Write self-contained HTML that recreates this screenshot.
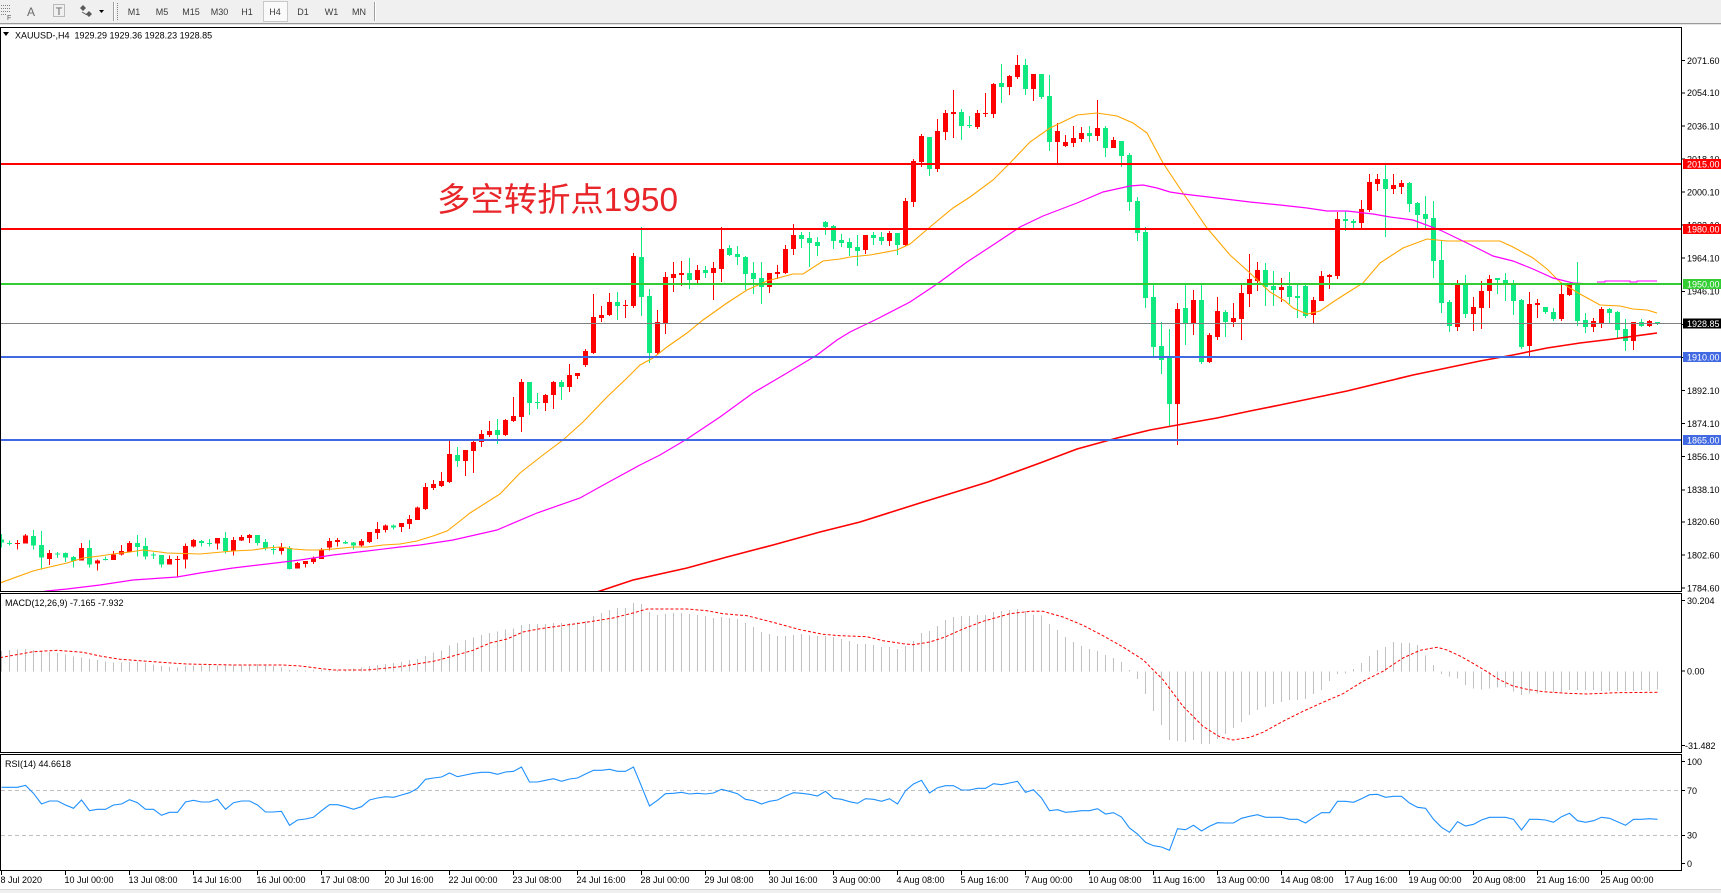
<!DOCTYPE html>
<html><head><meta charset="utf-8"><title>XAUUSD H4</title>
<style>
html,body{margin:0;padding:0;background:#fff;}
body{width:1721px;height:893px;overflow:hidden;}
svg{display:block;}
text{font-family:"Liberation Sans","Noto Sans CJK SC",sans-serif;font-size:9px;fill:#000;}
.tb{fill:#3a3a3a;font-size:9px;text-anchor:middle;}
.wl{fill:#fff;}
</style></head><body>
<svg id="svg" width="1721" height="893" viewBox="0 0 1721 893" xmlns="http://www.w3.org/2000/svg">
<defs>
<clipPath id="cm"><rect x="1" y="28" width="1680" height="563"/></clipPath>
<clipPath id="cmacd"><rect x="1" y="594" width="1680" height="158"/></clipPath>
<clipPath id="crsi"><rect x="1" y="755" width="1680" height="115"/></clipPath>
</defs>
<rect width="1721" height="893" fill="#fff"/>

<!-- toolbar -->
<rect x="0" y="0" width="1721" height="23" fill="#f0f0f0"/>
<line x1="0" y1="23.5" x2="1721" y2="23.5" stroke="#9a9a9a"/>
<line x1="0" y1="24.5" x2="1721" y2="24.5" stroke="#e4e4e4"/>
<g stroke="#808080" stroke-dasharray="1 1" shape-rendering="crispEdges">
<path d="M1 5.5h9M1 8.5h9M1 11.5h9M1 14.5h5"/>
<rect x="53.5" y="4.5" width="11" height="12" fill="none"/>
<line x1="117.5" y1="3" x2="117.5" y2="20"/>
</g>
<text x="7" y="20" style="font-size:7px;fill:#555">F</text>
<text x="31" y="16" style="font-size:12px;fill:#6a6a6a;text-anchor:middle">A</text>
<text x="59" y="15" style="font-size:11px;fill:#6a6a6a;text-anchor:middle">T</text>
<path d="M80 8l3-3 3 3-3 3z M86 14l3-3 3 3-3 3z" fill="#5a5a5a"/>
<path d="M82 12l5 3" stroke="#5a5a5a"/>
<path d="M99 10h5l-2.5 3z" fill="#000"/>
<line x1="113.5" y1="2" x2="113.5" y2="21" stroke="#a0a0a0"/>
<line x1="114.5" y1="2" x2="114.5" y2="21" stroke="#fff"/>
<rect x="263.5" y="1.5" width="24" height="20" fill="#fafafa" stroke="#c8c8c8"/>
<text class="tb" x="134" y="15">M1</text>
<text class="tb" x="162" y="15">M5</text>
<text class="tb" x="191" y="15">M15</text>
<text class="tb" x="219.5" y="15">M30</text>
<text class="tb" x="247" y="15">H1</text>
<text class="tb" x="275" y="15">H4</text>
<text class="tb" x="303" y="15">D1</text>
<text class="tb" x="331.5" y="15">W1</text>
<text class="tb" x="359" y="15">MN</text>
<line x1="374.5" y1="2" x2="374.5" y2="21" stroke="#a0a0a0"/>
<line x1="375.5" y1="2" x2="375.5" y2="21" stroke="#fff"/>

<!-- bottom strip -->
<rect x="0" y="890" width="1721" height="3" fill="#f0f0f0"/>
<line x1="0" y1="889.5" x2="1721" y2="889.5" stroke="#d8d8d8"/>

<!-- main panel content -->
<g clip-path="url(#cm)">
<path id="cgn" fill="#10e880" shape-rendering="crispEdges" d=""/>
<path id="cr" fill="#ff0000" shape-rendering="crispEdges" d=""/>
<polyline fill="none" stroke="#ffa500" stroke-width="1.1" points="0,583 33,571 41,569 67,563 83,558 100,556 113,554 130,552 143,550 160,552 167,553 200,554 233,551 253,550 267,548 280,547 293,549 307,550 320,550 333,549 353,547 367,547 383,545 400,544 417,541 433,536 447,531 460,521 470,513 500,494 520,473 543,455 563,440 583,422 607,397 627,378 640,365 653,358 667,347 687,333 703,320 727,303 747,290 767,281 793,274 803,274 823,261 840,259 850,257 870,255 897,250 910,244 930,227 953,208 970,197 993,180 1010,163 1030,142 1050,128 1077,115 1097,113 1117,116 1133,123 1147,133 1163,163 1183,193 1207,228 1230,255 1250,273 1270,292 1285,301 1293,308 1307,314 1320,311 1333,302 1347,293 1363,283 1380,263 1403,248 1427,239 1447,241 1467,241 1500,241 1513,247 1533,258 1547,269 1560,282 1580,294 1600,305 1620,306 1633,309 1647,310 1657,313"/>
<polyline fill="none" stroke="#ff00ff" stroke-width="1.2" points="40,592 47,591 67,589 100,585 133,580 177,577 200,573 233,568 267,564 300,560 333,555 367,551 400,547 420,545 453,540 497,530 537,513 580,498 607,483 640,465 660,455 687,439 720,417 753,393 787,373 817,355 837,340 850,332 877,319 910,302 937,284 967,262 993,245 1020,227 1043,216 1077,203 1103,192 1130,186 1143,185 1157,188 1170,192 1183,194 1217,198 1250,202 1280,205 1307,208 1327,211 1347,211 1373,214 1390,217 1413,220 1440,230 1467,243 1493,256 1513,261 1533,269 1553,278 1573,283 1590,284"/>
<polyline fill="none" stroke="#ff00ff" stroke-width="1.2" shape-rendering="crispEdges" points="1597,282 1605,282 1605,281 1630,281 1630,282 1637,282 1637,281 1657,281"/>
<polyline fill="none" stroke="#ff0000" stroke-width="1.6" points="597,592 633,580 687,568 727,557 773,545 820,532 860,522 920,503 988,482 1040,463 1077,449 1117,438 1150,430 1183,424 1217,418 1250,411 1280,405 1347,391 1413,375 1480,361 1513,355 1547,348 1580,343 1613,339 1657,333"/>
<g shape-rendering="crispEdges">
<line x1="1" y1="323.5" x2="1681" y2="323.5" stroke="#808080" stroke-width="1"/>
<line x1="1" y1="164" x2="1681" y2="164" stroke="#ff0000" stroke-width="2"/>
<line x1="1" y1="229" x2="1681" y2="229" stroke="#ff0000" stroke-width="2"/>
<line x1="1" y1="284" x2="1681" y2="284" stroke="#32cd32" stroke-width="2"/>
<line x1="1" y1="357" x2="1681" y2="357" stroke="#4169e1" stroke-width="2"/>
<line x1="1" y1="440" x2="1681" y2="440" stroke="#4169e1" stroke-width="2"/>
</g>
<text x="437" y="211" textLength="241" lengthAdjust="spacingAndGlyphs" style="font-family:'Liberation Sans','Noto Sans CJK SC',sans-serif;font-size:33px;fill:#e8262a">多空转折点1950</text>
</g>

<!-- header -->
<path d="M3 32h6l-3 4z" fill="#000"/>
<text x="15" y="38.5" style="white-space:pre">XAUUSD-,H4  1929.29 1929.36 1928.23 1928.85</text>

<!-- MACD -->
<g clip-path="url(#cmacd)">
<path id="hist" fill="#c0c0c0" shape-rendering="crispEdges" d=""/>
<polyline fill="none" stroke="#ff0000" stroke-width="1" stroke-dasharray="3 2" points="0,657.7 33,651.7 57,650.3 83,652.3 100,656 120,659.3 140,660.7 167,662.7 187,664 233,665 283,665 300,666 333,670 367,670 400,666.7 433,661.3 440,659.7 473,650.3 490,643 507,639 523,632 540,628.7 567,625 590,621.7 613,618 633,613 647,609 687,609 707,610.7 723,613.7 747,615.7 773,622.3 800,629.7 823,634.3 840,635.7 867,636.7 883,640.7 903,643.7 913,644.7 930,642 945,637 963,629 983,621.3 1010,613.7 1030,611.3 1043,611.3 1063,617 1083,625.3 1103,635.7 1123,647 1143,659.7 1163,679.7 1183,706.3 1203,726.3 1220,737 1233,740 1250,737.3 1263,732.3 1283,721.3 1303,711.3 1323,702.3 1343,693.7 1363,681.3 1383,671.3 1403,658 1420,650.3 1437,647.3 1447,650 1460,656 1473,663.3 1487,671.7 1500,680 1513,686 1527,689.3 1543,691.7 1567,693.3 1587,694 1617,692.7 1658,692.3"/>
</g>
<text x="5" y="606">MACD(12,26,9) -7.165 -7.932</text>

<!-- RSI -->
<g clip-path="url(#crsi)">
<line x1="1" y1="790.5" x2="1681" y2="790.5" stroke="#c0c0c0" stroke-dasharray="4 3" shape-rendering="crispEdges"/>
<line x1="1" y1="835.5" x2="1681" y2="835.5" stroke="#c0c0c0" stroke-dasharray="4 3" shape-rendering="crispEdges"/>
<polyline id="rsi" fill="none" stroke="#1e90ff" stroke-width="1.1" points=""/>
</g>
<text x="5" y="767">RSI(14) 44.6618</text>

<!-- frames -->
<g fill="none" stroke="#000" shape-rendering="crispEdges">
<rect x="0.5" y="27.5" width="1681" height="564"/>
<rect x="0.5" y="593.5" width="1681" height="159"/>
<rect x="0.5" y="754.5" width="1681" height="116"/>
<path d="M1681 60.7h4M1681 92.9h4M1681 126.1h4M1681 159h4M1681 192.1h4M1681 225.1h4M1681 258.2h4M1681 291.3h4M1681 324.4h4M1681 357.5h4M1681 390.5h4M1681 423.6h4M1681 456.7h4M1681 489.8h4M1681 521.9h4M1681 555h4M1681 588h4M1681 600.7h4M1681 671h4M1681 745.7h4M1681 761.7h4M1681 790.7h4M1681 835.3h4M1681 863.7h4"/>
<path d="M1.5 871v4M65.5 871v4M129.5 871v4M193.5 871v4M257.5 871v4M321.5 871v4M385.5 871v4M449.5 871v4M513.5 871v4M577.5 871v4M641.5 871v4M705.5 871v4M769.5 871v4M833.5 871v4M897.5 871v4M961.5 871v4M1025.5 871v4M1089.5 871v4M1153.5 871v4M1217.5 871v4M1281.5 871v4M1345.5 871v4M1409.5 871v4M1473.5 871v4M1537.5 871v4M1601.5 871v4"/>
</g>

<!-- price axis labels -->
<g>
<text x="1687" y="64">2071.60</text>
<text x="1687" y="96.2">2054.10</text>
<text x="1687" y="129.4">2036.10</text>
<text x="1687" y="162.3">2018.10</text>
<text x="1687" y="195.4">2000.10</text>
<text x="1687" y="228.4">1982.10</text>
<text x="1687" y="261.5">1964.10</text>
<text x="1687" y="294.6">1946.10</text>
<text x="1687" y="327.7">1928.10</text>
<text x="1687" y="360.8">1910.10</text>
<text x="1687" y="393.8">1892.10</text>
<text x="1687" y="426.9">1874.10</text>
<text x="1687" y="460">1856.10</text>
<text x="1687" y="493.1">1838.10</text>
<text x="1687" y="525.2">1820.60</text>
<text x="1687" y="558.3">1802.60</text>
<text x="1687" y="591.3">1784.60</text>
<text x="1687" y="604">30.204</text>
<text x="1687" y="674.3">0.00</text>
<text x="1685" y="749">-31.482</text>
<text x="1687" y="765">100</text>
<text x="1687" y="794">70</text>
<text x="1687" y="838.6">30</text>
<text x="1687" y="867">0</text>
</g>
<!-- level boxes -->
<g shape-rendering="crispEdges">
<rect x="1683" y="159" width="38" height="10" fill="#ff0000"/>
<rect x="1683" y="224" width="38" height="10" fill="#ff0000"/>
<rect x="1683" y="279" width="38" height="10" fill="#32cd32"/>
<rect x="1683" y="318.5" width="38" height="10" fill="#000"/>
<rect x="1683" y="352" width="38" height="10" fill="#4169e1"/>
<rect x="1683" y="435" width="38" height="10" fill="#4169e1"/>
</g>
<text class="wl" x="1687" y="167.4">2015.00</text>
<text class="wl" x="1687" y="232.4">1980.00</text>
<text class="wl" x="1687" y="287.4">1950.00</text>
<text class="wl" x="1687" y="326.9">1928.85</text>
<text class="wl" x="1687" y="360.4">1910.00</text>
<text class="wl" x="1687" y="443.4">1865.00</text>

<!-- time axis labels -->
<g>
<text x="0.5" y="883">8 Jul 2020</text>
<text x="64.5" y="883">10 Jul 00:00</text>
<text x="128.5" y="883">13 Jul 08:00</text>
<text x="192.5" y="883">14 Jul 16:00</text>
<text x="256.5" y="883">16 Jul 00:00</text>
<text x="320.5" y="883">17 Jul 08:00</text>
<text x="384.5" y="883">20 Jul 16:00</text>
<text x="448.5" y="883">22 Jul 00:00</text>
<text x="512.5" y="883">23 Jul 08:00</text>
<text x="576.5" y="883">24 Jul 16:00</text>
<text x="640.5" y="883">28 Jul 00:00</text>
<text x="704.5" y="883">29 Jul 08:00</text>
<text x="768.5" y="883">30 Jul 16:00</text>
<text x="832.5" y="883">3 Aug 00:00</text>
<text x="896.5" y="883">4 Aug 08:00</text>
<text x="960.5" y="883">5 Aug 16:00</text>
<text x="1024.5" y="883">7 Aug 00:00</text>
<text x="1088.5" y="883">10 Aug 08:00</text>
<text x="1152.5" y="883">11 Aug 16:00</text>
<text x="1216.5" y="883">13 Aug 00:00</text>
<text x="1280.5" y="883">14 Aug 08:00</text>
<text x="1344.5" y="883">17 Aug 16:00</text>
<text x="1408.5" y="883">19 Aug 00:00</text>
<text x="1472.5" y="883">20 Aug 08:00</text>
<text x="1536.5" y="883">21 Aug 16:00</text>
<text x="1600.5" y="883">25 Aug 00:00</text>
</g>
</svg>
<script>
(function(){
var C=[
[0,539.3,542.7,534,547.7],[0,543,543,540.3,545.7],[1,543,543,540,549.7],[1,535.7,543.7,534,543.7],[0,536,545.7,530,549.7],
[0,545,557.7,531,569.3],[1,553,559,550,565],[0,553.3,553.3,552,558],[0,553,557.7,552.3,562],[0,557,561,556,567.7],
[1,548,560.3,543,560.3],[0,548,564.7,540,567.7],[1,560.3,563.7,559.3,570.7],[0,559,559,556.7,560.7],[1,554.7,560,551,560],
[1,551,554.7,545,555.7],[1,543,552,541,552],[0,543,547,535,556.7],[0,546,556.7,538,559.7],[0,554.7,554.7,552.3,559],
[0,555,564.7,555,567.7],[1,559,564.7,555.3,564.7],[1,559,559,556,577],[1,546,559.7,543.7,568.7],[1,540,546.7,539,547.7],
[0,541,543,540,546.7],[0,543,543,539,546.7],[1,538,543.7,538,549.7],[0,538,551,532,553.7],[1,540,551,537,555.7],
[1,537,540.7,535,541],[1,535,538,534,543],[0,535,543,535,545.7],[0,542,548.7,539,550.7],[0,549,549,545,554.7],
[1,547.7,551,543,554.7],[0,548,569,546,569.7],[1,563,568.7,562,568.7],[1,561,564,561,567.7],[1,558.3,562,556.7,564],
[1,549.7,559,548,559],[1,541,547.7,538,550.7],[1,540,542,538,546.7],[0,542,543.7,540.3,544],[0,542.7,545.7,542,549.7],
[1,541,545.7,539,546.7],[1,532,542,532,543],[1,529,533,522,539],[1,525.3,530,524.7,532.7],[0,525.7,527.3,524.7,529.3],
[1,523,527,523,532],[1,519,524,515,529],[1,507.7,520,506.7,520],[1,487,509,483,510],[1,484,488,480,490],
[1,481,486,472,487],[1,454,482,441,483],[0,455,461,447,467],[1,450,461,450,476],[1,442,451,439,473],
[1,434,442,430,447],[1,431,435,421,437],[0,430,435,419,444],[1,420,435,419,436],[1,416,421,397,422],
[1,382,417,379,432],[0,382,403,382,415],[0,402,402,393,409],[1,395,403,394,411],[1,382,395,381,409],
[0,382,387,380,400],[1,375,387,364,392],[1,373,376,373,379],[1,351,365,349,367],[1,317,353,294,354],
[1,315,318,306,322],[1,302,315,293,316],[0,302,306,292,320],[1,305,305,300,318],[1,256,306,253,308],
[0,257,297,227,316],[0,296,353,289,363],[1,322,353,310,354],[1,277,324,272,334],[1,274,278,262,292],
[1,273,275,261,286],[0,273,280,258,289],[1,270,280,265,283],[0,270,273,266,278],[1,268,273,262,300],
[1,249,269,227,282],[0,248,255,245,256],[0,254,257,246,265],[0,257,274,256,290],[0,273,279,262,294],
[0,278,287,262,304],[1,273,287,273,293],[1,272,274,265,279],[1,249,273,245,274],[1,235,249,224,255],
[0,235,239,232,248],[0,238,243,232,267],[0,242,246,237,256],[0,222,227,221,235],[0,226,241,225,249],
[0,240,243,234,247],[0,242,248,238,256],[0,247,251,235,266],[1,235,250,235,254],[0,235,238,232,245],
[0,237,241,232,245],[1,233,241,231,246],[0,233,245,233,255],[1,201,245,198,246],[1,161,202,159,207],
[1,136,162,134,167],[0,137,169,137,176],[1,131,169,119,172],[1,113,132,110,140],[1,112,114,90,138],
[0,112,126,109,140],[0,125,125,116,128],[1,113,127,110,129],[1,113,113,93,117],[1,84,114,83,118],
[0,83,87,64,103],[1,76,87,75,95],[1,65,77,55,79],[0,65,89,59,95],[1,74,89,74,101],
[0,74,97,74,99],[0,96,142,75,151],[1,131,142,123,163],[1,142,146,135,147],[1,138,143,126,147],
[1,133,139,127,142],[0,133,136,126,142],[1,128,136,100,141],[0,128,148,126,157],[1,140,148,137,148],
[0,141,156,141,167],[0,155,202,153,211],[0,201,233,197,241],[0,232,298,227,308],[0,297,347,285,358],
[0,346,360,322,374],[0,357,404,329,427],[1,309,404,303,445],[0,308,323,284,345],[1,300,323,290,335],
[0,300,362,284,364],[1,335,362,333,363],[1,311,337,297,340],[0,312,322,310,337],[1,318,322,303,327],
[1,293,319,285,340],[1,279,294,254,307],[1,270,281,262,291],[0,270,287,263,306],[0,286,290,271,306],
[1,287,290,278,302],[0,286,297,272,304],[0,296,298,285,318],[0,286,316,285,318],[1,300,315,297,323],
[1,276,301,271,301],[1,275,277,274,289],[1,219,276,212,279],[0,219,221,211,231],[0,221,223,219,228],
[1,209,223,200,229],[1,182,210,174,212],[1,179,184,174,191],[0,179,189,164,237],[1,185,189,174,194],
[1,183,187,180,194],[0,183,204,182,212],[0,203,215,202,228],[0,214,219,196,228],[0,218,261,201,278],
[0,260,303,240,313],[0,302,326,300,332],[1,285,327,280,331],[0,284,314,275,318],[1,307,314,297,331],
[1,291,308,281,329],[1,279,291,275,308],[0,278,280,278,294],[0,280,284,273,301],[0,284,301,280,315],
[0,300,347,299,349],[1,304,346,292,356],[1,303,305,299,318],[0,307,312,307,314],[0,312,319,308,321],
[1,294,319,284,321],[1,285,295,284,296],[0,284,321,262,326],[0,320,327,313,333],[1,321,327,318,332],
[1,309,323,307,328],[0,309,313,308,323],[0,312,330,311,339],[0,329,341,319,351],[1,322,341,322,350],
[0,322,326,319,327],[1,321,326,320,327],[0,322,324,322,325]
];
var H=[651,650,649.3,649,650,651,652,653,654.3,656.3,657.7,659,660,661.7,662.7,662.7,662,661.7,663,664.3,666,667,667.3,666,665.7,665.7,665,665.7,665,665,665,664.3,664,665,666,667.3,670,670,670.7,670,669.3,669,670,669.3,668.7,667.7,666,665,664,663,662,660,659,656,652.7,
650.7,645.7,643,640,637.7,635,633,631.7,629.7,628.7,625,624,624,624,623,623,623,622,621,616,613,610,608,608,603,604,612,615,614,613,613,614,615,616,618,617,618,619,623,627,632,634,636,636,635,634,635,636,636,637,639,641,644,644,645,647,647,649,646,641,633,631,
626,620,617,616,616,615,615,612,611,610,609,611,615,615.3,624,630,637,642,646,649,651,655,658,662,670,679,694,711,725,740,741,742,740,744,744,739,734,728,722,715,710,707,704,702,700,700,699,694,690,681,674,673.3,669,663,656,650,647,642,643,643,645,
655.3,665,674,676.7,678.7,685,688.3,689.3,688.3,687.3,687.3,691.7,695,693.3,693.3,690.7,692,692,690,690,690,690,691,691,691,691,691,690,691,689.3];
var R=[787.3,787.3,787.3,785.3,793.3,804,801,801,805,808.3,800,810.7,809.3,809.3,805,804,799.7,802.7,809.3,809.3,815.3,812.3,812.3,802,800.3,802,802,799.3,809.3,802.7,801,801,805,812,812,811.3,825.3,820,819,817.3,810.7,804.7,804.7,806.7,809.3,806.7,800,798,796.7,797.3,795,792.7,788.3,779.3,778,
777,773,776.7,775,773.3,772.3,772.3,774.3,772,771.3,767,782,782,780.3,778.7,781.3,779,778,774,770.3,770.3,769.3,771.3,771.3,767,786.3,806,800.3,793.7,793.3,792.3,794,793.3,794,793,789.3,791.3,793.7,799.3,800.7,804,801.3,800,796,792.7,793.3,794.3,796,791.3,798.3,799.3,801.7,803.3,798.7,799.3,801.3,798.7,804,790.7,784,780.3,793,787.7,
785.7,785.7,790,790,788.3,788.3,783.7,784.7,783,781.3,792.3,789.7,798,810.7,809.7,812.3,811.7,810.7,810.7,808.7,814,812.7,817,828,834,842.3,845.7,847,850.3,828.7,829.7,825.3,831,826.3,822.7,823,823,818.3,816.3,814.7,817.3,817.3,817.3,819.3,819.3,823,817.7,812.7,812.7,801.3,801.3,802.3,798.7,794.7,794.3,797.3,796.3,796.3,803,807.3,
808.3,819.3,827.3,832.3,821.7,826,824.3,820,817.3,817.3,817.3,819.3,830,819.3,819.3,820,822.3,816.7,813.3,820.7,822.3,820.7,817.3,818.3,821.7,825.3,819.3,819.3,818.7,819.3];
var rp="",gp="",i;
for(i=0;i<C.length;i++){
var c=C[i],x=8*i,t=c[1],b=c[2],h=c[3],l=c[4];
var bh=Math.max(b-t,1),wl=Math.max(l-h,1);
var s="M"+(x+1)+" "+h+"h1v"+wl+"h-1zM"+(x-1)+" "+t+"h5v"+bh+"h-5z";
if(c[0])rp+=s;else gp+=s;
}
document.getElementById("cr").setAttribute("d",rp);
document.getElementById("cgn").setAttribute("d",gp);
var hp="",Z=671.5;
for(i=0;i<H.length;i++){
var v=H[i],y0=Math.min(v,Z),y1=Math.max(v,Z);
if(y1-y0<1)y1=y0+1;
hp+="M"+(8*i+1)+" "+y0+"h1v"+(y1-y0)+"h-1z";
}
document.getElementById("hist").setAttribute("d",hp);
var rs=[];
for(i=0;i<R.length;i++)rs.push((8*i+1.5)+","+R[i]);
document.getElementById("rsi").setAttribute("points",rs.join(" "));
})();
</script>
</body></html>
